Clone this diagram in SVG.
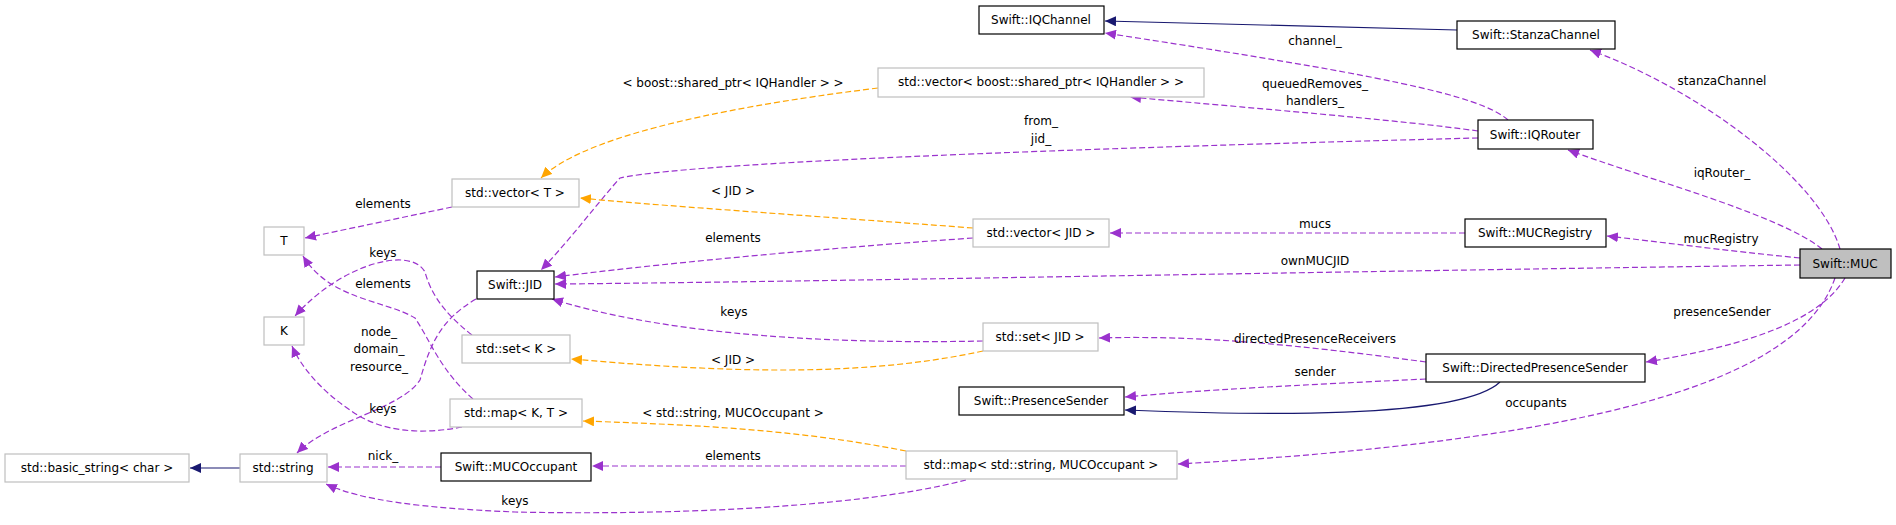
<svg xmlns="http://www.w3.org/2000/svg" width="1896" height="525" viewBox="0 0 1896 525">
<style>
text{font-family:"DejaVu Sans","Liberation Sans",sans-serif;font-size:12px;fill:#000}
.n text{text-anchor:middle}
.b{fill:#fff;stroke:#000;stroke-width:1.2}
.g{fill:#fff;stroke:#bfbfbf;stroke-width:1.2}
.m{fill:#bfbfbf;stroke:#000;stroke-width:1.2}
.e path{fill:none;stroke-width:1.2}
.p{stroke:#9a32cd;stroke-dasharray:6,3;marker-end:url(#ap)}
.o{stroke:#ffa500;stroke-dasharray:6,3;marker-end:url(#ao)}
.v{stroke:#191970;marker-end:url(#av)}
.l text{text-anchor:middle}
</style>
<defs>
<marker id="ap" markerUnits="userSpaceOnUse" markerWidth="12" markerHeight="10" refX="11" refY="5" orient="auto"><path d="M0,0L11,5L0,10z" fill="#9a32cd"/></marker>
<marker id="ao" markerUnits="userSpaceOnUse" markerWidth="12" markerHeight="10" refX="11" refY="5" orient="auto"><path d="M0,0L11,5L0,10z" fill="#ffa500"/></marker>
<marker id="av" markerUnits="userSpaceOnUse" markerWidth="12" markerHeight="10" refX="11" refY="5" orient="auto"><path d="M0,0L11,5L0,10z" fill="#191970"/></marker>
</defs>
<rect width="1896" height="525" fill="#fff"/>
<g id="edges" class="e">
<path class="v" d="M1457,30 L1105,21"/>
<path class="p" d="M1508,120 C1480,95 1380,75 1105,33"/>
<path class="p" d="M1478,131 C1400,120 1250,108 1130,97"/>
<path class="p" d="M1478,138 C1200,145 700,160 620,178 C600,200 570,240 541,270"/>
<path class="p" d="M1840,249 C1820,180 1700,90 1590,50"/>
<path class="p" d="M1822,249 C1780,215 1650,180 1568,150"/>
<path class="p" d="M1800,258 C1720,250 1660,242 1607,236"/>
<path class="p" d="M1800,265 C1300,272 800,282 555,284"/>
<path class="p" d="M1465,233 L1110,233"/>
<path class="o" d="M973,228 C800,215 650,205 580,198"/>
<path class="p" d="M973,238 C800,250 650,265 555,277"/>
<path class="o" d="M878,88 C700,110 580,140 541,178"/>
<path class="p" d="M452,207 L305,238"/>
<path class="p" d="M472,335 C440,310 430,290 425,272 C410,245 340,265 295,316"/>
<path class="p" d="M473,399 C440,370 430,340 415,318 C385,300 330,300 303,256"/>
<path class="p" d="M462,427 C420,435 380,432 350,410 C320,390 300,365 292,346"/>
<path class="p" d="M476,299 C440,320 430,345 420,380 C400,410 330,420 297,453"/>
<path class="p" d="M983,341 C800,345 650,330 552,299"/>
<path class="o" d="M983,351 C850,380 700,370 571,359"/>
<path class="p" d="M1426,362 C1300,345 1200,335 1099,338"/>
<path class="p" d="M1426,379 C1300,385 1200,390 1125,397"/>
<path class="v" d="M1500,382 C1460,420 1250,415 1125,410"/>
<path class="p" d="M1845,278 C1820,320 1750,345 1646,362"/>
<path class="p" d="M1835,278 C1800,380 1600,440 1178,464"/>
<path class="o" d="M906,451 C800,430 700,425 583,421"/>
<path class="p" d="M906,466 L592,466"/>
<path class="p" d="M966,480 C850,510 650,515 515,512 C420,508 360,500 326,484"/>
<path class="p" d="M441,467 L328,467"/>
<path class="v" d="M240,468 L190,468"/>
</g>
<g id="labels" class="l">
<text x="1722" y="85">stanzaChannel</text>
<text x="1315" y="45">channel_</text>
<text x="1315" y="88">queuedRemoves_</text>
<text x="1315" y="105">handlers_</text>
<text x="733" y="87">&lt; boost::shared_ptr&lt; IQHandler &gt; &gt;</text>
<text x="1041" y="125">from_</text>
<text x="1041" y="143">jid_</text>
<text x="1722" y="177">iqRouter_</text>
<text x="383" y="208">elements</text>
<text x="733" y="195">&lt; JID &gt;</text>
<text x="1315" y="228">mucs</text>
<text x="733" y="242">elements</text>
<text x="1721" y="243">mucRegistry</text>
<text x="1315" y="265">ownMUCJID</text>
<text x="383" y="257">keys</text>
<text x="383" y="288">elements</text>
<text x="379" y="336">node_</text>
<text x="379" y="353">domain_</text>
<text x="379" y="371">resource_</text>
<text x="734" y="316">keys</text>
<text x="1722" y="316">presenceSender</text>
<text x="1315" y="343">directedPresenceReceivers</text>
<text x="733" y="364">&lt; JID &gt;</text>
<text x="1315" y="376">sender</text>
<text x="383" y="413">keys</text>
<text x="1536" y="407">occupants</text>
<text x="733" y="417">&lt; std::string, MUCOccupant &gt;</text>
<text x="383" y="460">nick_</text>
<text x="733" y="460">elements</text>
<text x="515" y="505">keys</text>
</g>
<g id="IQChannel" class="n"><rect class="b" x="979" y="6" width="125" height="28"/><text x="1041" y="24">Swift::IQChannel</text></g>
<g id="StanzaChannel" class="n"><rect class="b" x="1457" y="21" width="158" height="28"/><text x="1536" y="39">Swift::StanzaChannel</text></g>
<g id="VecSP" class="n"><rect class="g" x="878" y="68" width="326" height="29"/><text x="1041" y="86">std::vector&lt; boost::shared_ptr&lt; IQHandler &gt; &gt;</text></g>
<g id="IQRouter" class="n"><rect class="b" x="1478" y="120" width="115" height="29"/><text x="1535" y="139">Swift::IQRouter</text></g>
<g id="VecT" class="n"><rect class="g" x="452" y="179" width="127" height="28"/><text x="515" y="197">std::vector&lt; T &gt;</text></g>
<g id="T" class="n"><rect class="g" x="264" y="227" width="40" height="28"/><text x="284" y="245">T</text></g>
<g id="VecJID" class="n"><rect class="g" x="973" y="219" width="136" height="28"/><text x="1041" y="237">std::vector&lt; JID &gt;</text></g>
<g id="MUCRegistry" class="n"><rect class="b" x="1465" y="219" width="141" height="28"/><text x="1535" y="237">Swift::MUCRegistry</text></g>
<g id="MUC" class="n"><rect class="m" x="1800" y="249" width="91" height="29"/><text x="1845" y="268">Swift::MUC</text></g>
<g id="JID" class="n"><rect class="b" x="477" y="271" width="77" height="28"/><text x="515" y="289">Swift::JID</text></g>
<g id="K" class="n"><rect class="g" x="264" y="317" width="40" height="28"/><text x="284" y="335">K</text></g>
<g id="SetJID" class="n"><rect class="g" x="983" y="323" width="115" height="28"/><text x="1040" y="341">std::set&lt; JID &gt;</text></g>
<g id="SetK" class="n"><rect class="g" x="462" y="335" width="108" height="28"/><text x="516" y="353">std::set&lt; K &gt;</text></g>
<g id="DPS" class="n"><rect class="b" x="1426" y="354" width="219" height="28"/><text x="1535" y="372">Swift::DirectedPresenceSender</text></g>
<g id="PresenceSender" class="n"><rect class="b" x="959" y="387" width="165" height="28"/><text x="1041" y="405">Swift::PresenceSender</text></g>
<g id="MapKT" class="n"><rect class="g" x="450" y="399" width="132" height="28"/><text x="516" y="417">std::map&lt; K, T &gt;</text></g>
<g id="MapSM" class="n"><rect class="g" x="906" y="451" width="271" height="28"/><text x="1041" y="469">std::map&lt; std::string, MUCOccupant &gt;</text></g>
<g id="MUCOccupant" class="n"><rect class="b" x="441" y="453" width="150" height="28"/><text x="516" y="471">Swift::MUCOccupant</text></g>
<g id="String" class="n"><rect class="g" x="240" y="454" width="87" height="28"/><text x="283" y="472">std::string</text></g>
<g id="BasicString" class="n"><rect class="g" x="5" y="454" width="184" height="28"/><text x="97" y="472">std::basic_string&lt; char &gt;</text></g>
</svg>
